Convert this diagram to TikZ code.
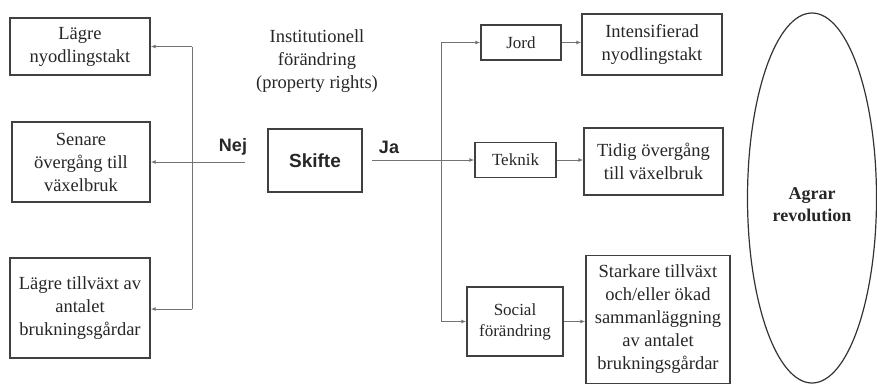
\documentclass[tikz,border=0pt]{standalone}
\usepackage{fontspec}
\setmainfont{Liberation Serif}
\newfontfamily\timesfont{Liberation Serif}
\newfontfamily\arialfont{Liberation Sans}
\usetikzlibrary{arrows.meta,shapes.geometric}
\tikzset{
  box/.style={draw=black!75, line width=1.4pt, rectangle, inner sep=0pt, align=center,
    font=\timesfont\fontsize{18.5}{23}\selectfont, text=black!85},
  smallbox/.style={box, font=\timesfont\fontsize{17}{21}\selectfont},
  conn/.style={draw=black!55, line width=1pt},
  arr/.style={conn, -{Latex[length=5pt,width=4pt]}},
  lab/.style={font=\arialfont\bfseries\fontsize{18}{22}\selectfont, text=black!85}
}
\begin{document}
\begin{tikzpicture}[x=1pt,y=-1pt]
\useasboundingbox (0,0) rectangle (877,384);
% left boxes
\node[box, minimum width=140, minimum height=57] (lagre) at (80,46.5) {Lägre\\nyodlingstakt};
\node[box, minimum width=138, minimum height=80] (senare) at (81,162) {Senare\\övergång till\\växelbruk};
\node[box, minimum width=140, minimum height=100] (lagretill) at (80,308) {Lägre tillväxt av\\antalet\\brukningsgårdar};
% centre
\node[box, minimum width=94, minimum height=63, font=\arialfont\bfseries\fontsize{19}{23}\selectfont] (skifte) at (315,160.5) {Skifte};
\node[align=center, font=\timesfont\fontsize{18.5}{23}\selectfont, text=black!85] (inst) at (317,61) {Institutionell\\förändring\\(property rights)};
\node[lab] (nej) at (233,147) {Nej};
\node[lab] (ja) at (389,147) {Ja};
% right small boxes
\node[smallbox, minimum width=80, minimum height=35] (jord) at (521,42.5) {Jord};
\node[smallbox, minimum width=81, minimum height=35] (teknik) at (515.5,160) {Teknik};
\node[smallbox, minimum width=96, minimum height=69] (social) at (515,321.5) {Social\\förändring};
% result boxes
\node[box, minimum width=140, minimum height=61] (intens) at (652,44.5) {Intensifierad\\nyodlingstakt};
\node[box, minimum width=139, minimum height=67] (tidig) at (653.5,161.5) {Tidig övergång\\till växelbruk};
\node[box, minimum width=144, minimum height=128] (stark) at (658,319.5) {Starkare tillväxt\\och/eller ökad\\sammanläggning\\av antalet\\brukningsgårdar};
% ellipse
\node[draw=black!80, line width=1.2pt, ellipse, inner sep=0pt, minimum width=129, minimum height=370,
  align=center, font=\timesfont\bfseries\fontsize{18}{22}\selectfont, text=black!85] (agrar) at (812,198) {};
\node[align=center, font=\timesfont\bfseries\fontsize{18}{22}\selectfont, text=black!85] (agrartext) at (812,205) {Agrar\\revolution};
% left connectors
\coordinate (nejstart) at (245,162);
\coordinate (ltop) at (192,46.5);
\coordinate (lbot) at (192,309);
\draw[conn] (ltop) -- (lbot);
\draw[arr] (nejstart) -- (senare.east);
\draw[arr] (ltop) -- (lagre.east);
\draw[arr] (lbot) -- (lagre.east |- lbot);
% right connectors
\coordinate (jastart) at (372,160);
\coordinate (rtop) at (441,42.5);
\coordinate (rbot) at (441,321.5);
\draw[conn] (rtop) -- (rbot);
\draw[arr] (jastart) -- (teknik.west);
\draw[arr] (rtop) -- (jord.west);
\draw[arr] (rbot) -- (social.west);
\draw[arr] (jord.east) -- (jord.east -| intens.west);
\draw[arr] (teknik.east) -- (teknik.east -| tidig.west);
\draw[arr] (social.east) -- (social.east -| stark.west);
\end{tikzpicture}
\end{document}
